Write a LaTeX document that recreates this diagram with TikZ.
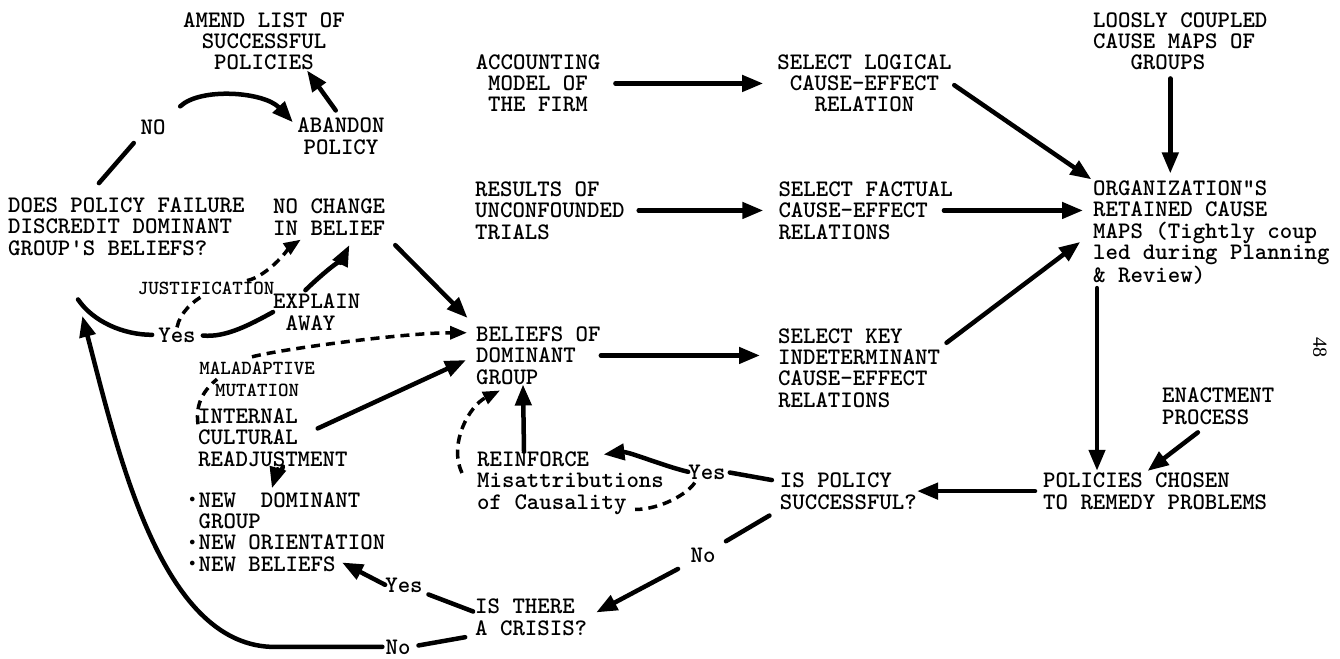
\documentclass[tikz,border=0pt]{standalone}
\usepackage{fontspec}
\newfontfamily\pagefont{Liberation Serif}
\usetikzlibrary{arrows.meta,positioning}
\newcommand\listdot{\makebox[0.525em]{\raisebox{0.18em}{$\scriptscriptstyle\bullet$}}}
\tikzset{
  stmt/.style={font=\ttfamily\bfseries\fontsize{23.7pt}{21.3pt}\selectfont,inner sep=0pt,
    align=left,anchor=base west},
  stmtc/.style={stmt,align=center,anchor=base},
  answer/.style={stmtc},
  note/.style={font=\ttfamily\bfseries\fontsize{20pt}{21.5pt}\selectfont,
    inner sep=0pt,align=center,anchor=base},
  plain/.style={line width=4.5pt,line cap=round},
  arrow/.style={plain,-{Triangle[length=21pt,width=16pt]}},
  dashedline/.style={line width=3.5pt,dash pattern=on 9pt off 6pt},
  dashedarrow/.style={dashedline,-{Triangle[length=17pt,width=13pt]}}
}

\begin{document}
\begin{tikzpicture}[x=1pt,y=-1pt]
  \useasboundingbox (0,0) rectangle (1340,658);

  \node[stmtc] (amend) at (264,70) {AMEND LIST OF\\SUCCESSFUL\\POLICIES};
  \node[answer] (nofail) at (153,135) {NO};
  \node[stmtc] (abandon) at (341,154) {ABANDON\\POLICY};
  \node[stmt] (failq) at (8,255) {DOES POLICY FAILURE\\DISCREDIT DOMINANT\\GROUP'S BELIEFS?};
  \node[stmt] (nochange) at (273,235) {NO CHANGE\\IN BELIEF};
  \node[note] (justify) at (206,294) {JUSTIFICATION};
  \node[stmt] (explain) at (273,330) {EXPLAIN\\\hphantom{X}AWAY};
  \node[answer] (yesfail) at (177,342) {Yes};
  \node[note] (maladapt) at (257,396) {MALADAPTIVE\\MUTATION};
  \node[stmt] (readjust) at (198,466) {INTERNAL\\CULTURAL\\READJUSTMENT};
  \node[stmt] (newlist) at (186,571)
    {\listdot NEW\ \ DOMINANT\\\hphantom{X}GROUP\\\listdot NEW ORIENTATION\\\listdot NEW BELIEFS};
  \node[answer] (yescrisis) at (404,592) {Yes};
  \node[answer] (nocrisis) at (398,654) {No};
  \node[stmt] (crisis) at (475,635) {IS THERE\\A CRISIS?};
  \node[stmt] (reinforce) at (477,509) {REINFORCE\\Misattributions\\of Causality};
  \node[answer] (yessucc) at (707,479) {Yes};
  \node[answer] (nosucc) at (703,562) {No};
  \node[stmt] (beliefs) at (476,384) {BELIEFS OF\\DOMINANT\\GROUP};
  \node[stmt] (keyrel) at (778,407) {SELECT KEY\\INDETERMINANT\\CAUSE-EFFECT\\RELATIONS};
  \node[stmtc] (acct) at (538,112) {ACCOUNTING\\MODEL OF\\THE FIRM};
  \node[stmtc,right=176.75pt of acct] (logical) {SELECT LOGICAL\\CAUSE-EFFECT\\RELATION};
  \node[stmt] (trials) at (475,239) {RESULTS OF\\UNCONFOUNDED\\TRIALS};
  \node[stmt,right=153.6pt of trials] (factual) {SELECT FACTUAL\\CAUSE-EFFECT\\RELATIONS};
  \node[stmt] (loose) at (1093,70) {LOOSLY COUPLED\\CAUSE MAPS OF\\\hphantom{XXX}GROUPS};
  \node[stmt] (retained) at (1093,282)
    {ORGANIZATION"S\\RETAINED CAUSE\\MAPS (Tightly coup\\led during Planning\\\& Review)};
  \node[stmt] (enact) at (1162,424) {ENACTMENT\\PROCESS};
  \node[stmt] (chosen) at (1043,509) {POLICIES CHOSEN\\TO REMEDY PROBLEMS};
  \node[stmt,left=126pt of chosen] (success) {IS POLICY\\SUCCESSFUL?};
  \node[rotate=-90,inner sep=0pt,font=\pagefont\fontsize{20pt}{20pt}\selectfont]
    (pageno) at (1320,347) {48};

  \coordinate (failin) at ([shift={(70,44)}]failq.south west);

  \draw[plain,shorten <=19pt,shorten >=10pt] (failq.144) -- (nofail.south west);
  \draw[arrow,shorten <=20pt,shorten >=2pt] (nofail.north east)
    .. controls +(35,-33) and +(-30,-32) .. ([shift={(-3,6)}]abandon.north west);
  \draw[arrow,shorten <=9pt] (abandon.north) -- ([xshift=43pt]amend.south);

  \draw[arrow,shorten <=15pt,shorten >=14pt] (acct) -- (logical);
  \draw[arrow,shorten <=3pt,shorten >=2pt] (logical.east) -- (retained.north west);
  \draw[arrow,shorten <=8pt,shorten >=7pt] ([xshift=-10pt]loose.south)
    -- ([xshift=-10pt]loose.south |- retained.north);
  \draw[arrow,shorten <=14pt,shorten >=15pt] (trials) -- (factual);
  \draw[arrow,shorten <=-9pt,shorten >=10pt] (factual.east) -- (factual.east -| retained.west);
  \draw[arrow,shorten <=8pt,shorten >=16pt] (keyrel.14) -- (retained.west);
  \draw[arrow,shorten <=4pt,shorten >=2pt] ([xshift=4pt]retained.south west)
    -- ([xshift=4pt]retained.south west |- chosen.north);
  \draw[arrow,shorten <=13pt,shorten >=3pt] ([xshift=-10pt]enact.south) -- ([xshift=-10pt]chosen.north);
  \draw[arrow,shorten <=8pt] (chosen) -- (success);

  \draw[plain,shorten <=8pt,shorten >=4pt] (success.172) -- (yessucc.east);
  \draw[arrow] (yessucc.west) .. controls +(-25,-6) and +(25,-3) .. ([shift={(33,3)}]reinforce.north);
  \draw[dashedline,shorten <=4pt] ([xshift=-10pt]yessucc.south)
    .. controls +(-10,15) and +(25,0) .. ([shift={(-29,-5)}]reinforce.south east);
  \draw[dashedarrow] ([shift={(-15,-10)}]reinforce.west)
    .. controls +(-14,-30) and +(-30,15) .. ([shift={(24,6)}]beliefs.south west);
  \draw[arrow] ([xshift=47pt]reinforce.north west) -- ([xshift=47pt]beliefs.south west);
  \draw[arrow,shorten >=18pt] (beliefs.east) -- (beliefs.east -| keyrel.west);
  \draw[plain,shorten <=12pt,shorten >=12pt] (success.south west) -- (nosucc.north east);
  \draw[arrow,shorten <=14pt,shorten >=10pt] (nosucc.south west) -- (crisis.east);

  \draw[plain,shorten <=2pt,shorten >=6pt] (crisis.175) -- (yescrisis.south east);
  \draw[arrow] (yescrisis.west) -- ([shift={(156,-9)}]newlist.south west);
  \draw[plain,shorten <=10pt,shorten >=8pt] (crisis.south west) -- (nocrisis.east);
  \draw[arrow,shorten <=3pt,shorten >=17pt] (nocrisis.west) -- +(-115,0)
    .. controls +(-110,-5) and +(40,153) .. (failin);

  \draw[plain,shorten >=6pt] (failin) .. controls +(15,22) and +(-35,0) .. (yesfail.west);
  \draw[plain,shorten <=7pt] (yesfail.east) .. controls +(30,3) and +(-22,12) .. (explain.west);
  \draw[arrow,shorten <=5pt,shorten >=11pt] (explain.129)
    .. controls +(15,-15) and +(-10,20) .. (nochange.-36);
  \draw[dashedline,shorten >=3pt] (yesfail.north) .. controls +(3,-15) and +(-12,6) .. (justify.south);
  \draw[dashedarrow,shorten <=4pt,shorten >=8pt] (justify.10)
    .. controls +(25,-5) and +(-15,10) .. (nochange.-140);
  \draw[arrow,shorten <=14pt,shorten >=12pt] (nochange.south east) -- (beliefs.north west);

  \draw[dashedline] (readjust.170) .. controls +(-3,-22) and +(-12,10) .. ([xshift=18pt]maladapt.west);
  \draw[dashedarrow,shorten >=9pt] ([shift={(-5,-5)}]maladapt.north)
    .. controls +(30,-8) and +(-70,0) .. (beliefs.160);
  \draw[arrow,shorten >=11pt] ([shift={(-30,20)}]readjust.north east) -- (beliefs.west);
  \draw[arrow,shorten >=4pt] ([xshift=10pt]readjust.south)
    .. controls +(-2,10) and +(3,-10) .. ([xshift=-15pt]newlist.north);
\end{tikzpicture}
\end{document}
